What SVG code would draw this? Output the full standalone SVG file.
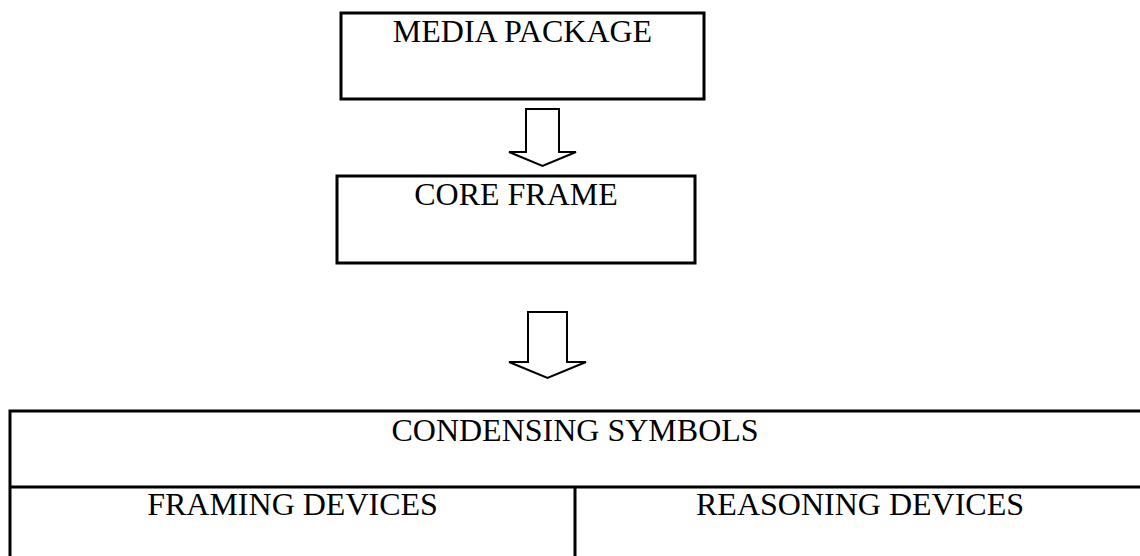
<svg xmlns="http://www.w3.org/2000/svg" width="1140" height="556" viewBox="0 0 1140 556">
  <style>
    .box { fill: #ffffff; stroke: #000000; stroke-width: 3; }
    .rule { fill: none; stroke: #000000; stroke-width: 3; }
    .block-arrow { fill: #ffffff; stroke: #000000; stroke-width: 2; stroke-linejoin: miter; }
    .label { font-family: "Liberation Serif", "Times New Roman", serif; font-size: 32px; fill: #000000; text-anchor: middle; }
  </style>
  <rect width="1140" height="556" fill="#ffffff"/>

  <g id="media-package">
    <rect class="box" x="341" y="13" width="363" height="86"/>
    <text class="label" x="522.5" y="42">MEDIA PACKAGE</text>
  </g>

  <g id="core-frame">
    <rect class="box" x="337" y="176" width="358" height="87"/>
    <text class="label" x="516" y="205">CORE FRAME</text>
  </g>

  <g id="symbols-table">
    <rect class="box" x="10" y="411" width="1135" height="150"/>
    <line class="rule" x1="10" y1="487" x2="1145" y2="487"/>
    <line class="rule" x1="575" y1="487" x2="575" y2="561"/>
    <text class="label" x="575" y="441">CONDENSING SYMBOLS</text>
    <text class="label" x="292.5" y="515">FRAMING DEVICES</text>
    <text class="label" x="860" y="515">REASONING DEVICES</text>
  </g>

  <g id="connectors">
    <polygon class="block-arrow" points="526,109 559,109 559,152 576,152 542.5,166 509,152 526,152"/>
    <polygon class="block-arrow" points="528,312 567,312 567,362 586,362 547.5,378 509,362 528,362"/>
  </g>
</svg>
